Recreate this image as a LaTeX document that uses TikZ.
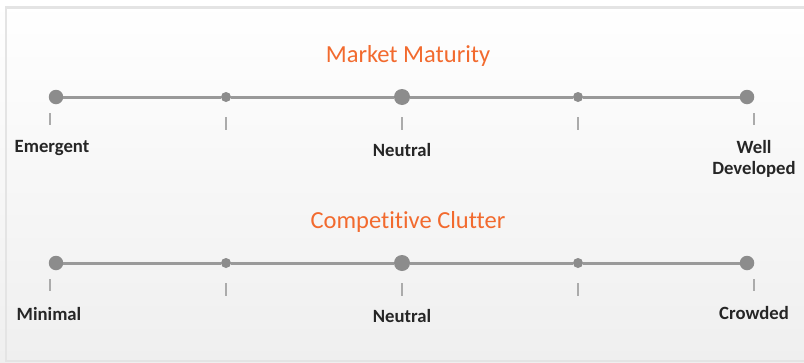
\documentclass[tikz,border=0pt]{standalone}
\usepackage{fontspec}
\setmainfont{Carlito}[RawFeature=-liga]
\definecolor{orangetitle}{HTML}{F26A2E}
\definecolor{linegray}{HTML}{999999}
\definecolor{dotgray}{HTML}{8C8C8C}
\definecolor{tickgray}{HTML}{ABABAB}
\definecolor{labeltext}{HTML}{262626}
\definecolor{framegray}{HTML}{E4E4E4}
\definecolor{bgbottom}{HTML}{EFEFEF}
\begin{document}
\begin{tikzpicture}[x=1pt,y=-1pt,
  bigdot/.style={circle,fill=dotgray,inner sep=0pt,minimum size=14.5pt},
  meddot/.style={circle,fill=dotgray,inner sep=0pt,minimum size=16pt},
  smalldot/.style={circle,fill=dotgray,inner sep=0pt,minimum size=10pt},
  scaleline/.style={draw=linegray,line width=3pt},
  ticklabel/.style={font=\fontsize{18.7}{21}\selectfont\bfseries,text=labeltext,inner sep=0pt,align=center},
  scaletitle/.style={font=\fontsize{24.5}{28}\selectfont,text=orangetitle,inner sep=0pt},
  tickmark/.style={draw=tickgray,line width=1.2pt}]
\useasboundingbox (0,0) rectangle (804,362);
\clip (0,0) rectangle (804,362);
\shade[top color=white,bottom color=bgbottom] (0,0) rectangle (804,362);
\draw[framegray,line width=2.2pt] (6,7.5) rectangle (830,361);

% ---------- Market Maturity ----------
\node[scaletitle] (t1) at (408,56) {Market Maturity};
\node[bigdot] (a1) at (56,97) {};
\node[smalldot] (a2) at (226,97) {};
\node[meddot] (a3) at (402,97) {};
\node[smalldot] (a4) at (578,97) {};
\node[bigdot] (a5) at (747,97) {};
\draw[scaleline] (a1) -- (a2);
\draw[scaleline] (a2) -- (a3);
\draw[scaleline] (a3) -- (a4);
\draw[scaleline] (a4) -- (a5);
\coordinate (k1a) at (50,113); \coordinate (k1b) at (50,125);
\coordinate (k2a) at (226,117); \coordinate (k2b) at (226,130);
\coordinate (k3a) at (402,117); \coordinate (k3b) at (402,130);
\coordinate (k4a) at (578,117); \coordinate (k4b) at (578,130);
\coordinate (k5a) at (754,113); \coordinate (k5b) at (754,125);
\draw[tickmark] (k1a) -- (k1b);
\draw[tickmark] (k2a) -- (k2b);
\draw[tickmark] (k3a) -- (k3b);
\draw[tickmark] (k4a) -- (k4b);
\draw[tickmark] (k5a) -- (k5b);
\node[ticklabel] (l1) at (52,148) {Emergent};
\node[ticklabel] (l3) at (402,150) {Neutral};
\node[ticklabel] (l5a) at (754,147) {Well};
\node[ticklabel] (l5b) at (754,169) {Developed};

% ---------- Competitive Clutter ----------
\node[scaletitle] (t2) at (408,222) {Competitive Clutter};
\node[bigdot] (b1) at (56,263) {};
\node[smalldot] (b2) at (226,263) {};
\node[meddot] (b3) at (402,263) {};
\node[smalldot] (b4) at (578,263) {};
\node[bigdot] (b5) at (747,263) {};
\draw[scaleline] (b1) -- (b2);
\draw[scaleline] (b2) -- (b3);
\draw[scaleline] (b3) -- (b4);
\draw[scaleline] (b4) -- (b5);
\coordinate (m1a) at (50,279); \coordinate (m1b) at (50,291);
\coordinate (m2a) at (226,283); \coordinate (m2b) at (226,296);
\coordinate (m3a) at (402,283); \coordinate (m3b) at (402,296);
\coordinate (m4a) at (578,283); \coordinate (m4b) at (578,296);
\coordinate (m5a) at (754,279); \coordinate (m5b) at (754,291);
\draw[tickmark] (m1a) -- (m1b);
\draw[tickmark] (m2a) -- (m2b);
\draw[tickmark] (m3a) -- (m3b);
\draw[tickmark] (m4a) -- (m4b);
\draw[tickmark] (m5a) -- (m5b);
\node[ticklabel] (n1) at (49,314) {Minimal};
\node[ticklabel] (n3) at (402,316) {Neutral};
\node[ticklabel] (n5) at (754,313) {Crowded};
\end{tikzpicture}
\end{document}
